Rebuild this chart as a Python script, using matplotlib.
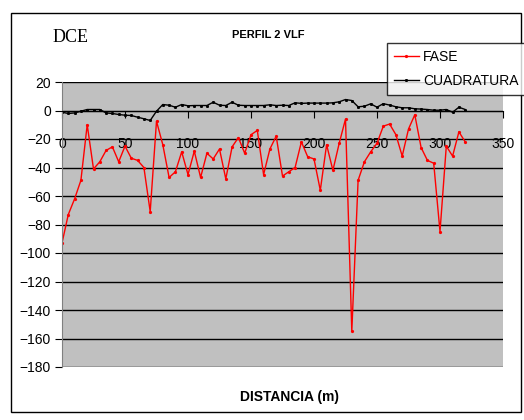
import matplotlib
matplotlib.use("Agg")
import matplotlib.pyplot as plt
from matplotlib.patches import Rectangle

plt.rcParams['font.family'] = ['Liberation Sans', 'DejaVu Sans']

distancia = list(range(0, 325, 5))
fase = [-93, -73, -62, -49, -10, -41, -36, -28, -25.5, -36,
        -25, -33.5, -35, -40, -71, -7.5, -24, -47, -43, -29,
        -45, -28.5, -47, -30, -34, -27, -48, -25.5, -19, -30,
        -17, -14, -45, -27, -18, -46, -43, -40, -22, -32.5,
        -34, -56, -24, -42, -23, -6, -155, -49, -36, -29,
        -23, -11, -9.5, -17, -32, -13, -3, -26, -35, -37,
        -85, -25, -32, -15, -22]
cuadratura = [-1.2, -2.1, -1.7, -0.5, 0.7, 0.7, 0.7, -1.7, -2.1, -2.8,
              -3.3, -3.5, -4.7, -5.8, -7, -0.5, 4.2, 3.7, 2.3, 4.2,
              3.3, 3.5, 3.5, 3.5, 5.8, 3.7, 3.5, 5.8, 3.7, 3.5,
              3.5, 3.5, 3.5, 4, 3.5, 3.7, 3.5, 5.4, 5, 5.2,
              5.2, 5.2, 5.2, 5.4, 6.1, 7.7, 7, 2.6, 3, 4.7,
              2.3, 4.8, 3.8, 2.6, 1.9, 1.9, 1.2, 1.0, 0.7, 0.2,
              0.2, 0.7, -1.2, 2.3, 0.7]

fig = plt.figure(figsize=(5.24, 4.2), dpi=100)
ax = fig.add_axes([62/524, 1-367/420, 441/524, 285/420])
ax.set_facecolor('#C0C0C0')

ax.plot(distancia, fase, color='red', lw=1, marker='o', ms=1.3, label='FASE')
ax.plot(distancia, cuadratura, color='black', lw=1, marker='s', ms=1.1, label='CUADRATURA')

ax.set_xlim(0, 350)
ax.set_ylim(-180, 20)
ax.set_yticks(range(-180, 21, 20))
ax.set_xticks(range(0, 351, 50))
ax.yaxis.grid(True, color='black', lw=1)
ax.set_axisbelow(True)

ax.spines['bottom'].set_position(('data', 0))
ax.spines['top'].set_visible(False)
ax.spines['right'].set_visible(False)
ax.spines['left'].set_color('#808080')
ax.tick_params(axis='x', direction='out', length=5, pad=14, labelsize=10)
ax.tick_params(axis='y', direction='out', length=5, pad=3, labelsize=10)

fig.text(268/524, 1-35/420, 'PERFIL 2 VLF', fontsize=8, fontweight='bold',
         ha='center', va='center')
fig.text(71/524, 1-38/420, 'DCE', fontsize=13, family='Liberation Serif',
         ha='center', va='center')
fig.text(290/524, 1-397/420, 'DISTANCIA (m)', fontsize=10, fontweight='bold',
         ha='center', va='center')

leg = fig.legend(loc='upper left', bbox_to_anchor=(387/524, 1-43/420),
                 frameon=True, fancybox=False, edgecolor='black',
                 fontsize=10, handlelength=1.8, borderpad=0.5, labelspacing=0.7,
                 handletextpad=0.3, borderaxespad=0)
leg.get_frame().set_linewidth(1)

fig.patches.append(Rectangle((11/524, 1-412/420), 510/524, 399/420,
                             transform=fig.transFigure, fill=False,
                             edgecolor='black', lw=1))

fig.savefig('out.png', dpi=100)
